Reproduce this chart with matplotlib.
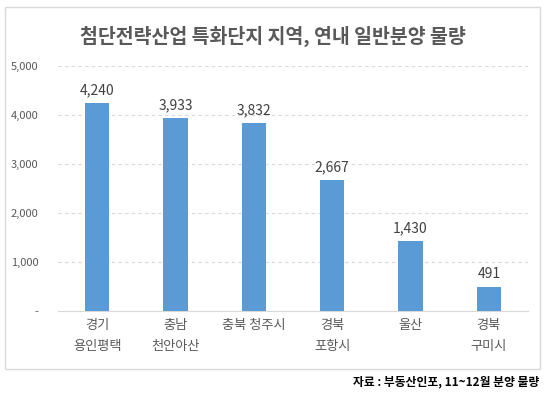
import matplotlib
matplotlib.use("Agg")
import matplotlib.pyplot as plt
from matplotlib.patches import Rectangle

plt.rcParams['font.family'] = ['Noto Sans CJK KR', 'DejaVu Sans']

regions = ["경기\n용인평택", "충남\n천안아산", "충북 청주시", "경북\n포항시", "울산", "경북\n구미시"]
volumes = [4240, 3933, 3832, 2667, 1430, 491]
y_ticks = [0, 1000, 2000, 3000, 4000, 5000]
y_tick_labels = ["-", "1,000", "2,000", "3,000", "4,000", "5,000"]

W, H = 547, 395
fig = plt.figure(figsize=(W / 100, H / 100), dpi=100)

# outer chart box
fig.patches.append(Rectangle((5 / W, 1 - 369 / H), 535 / W, 362 / H,
                             transform=fig.transFigure, fill=False,
                             edgecolor="#d9d9d9", linewidth=1))

ax = fig.add_axes([58 / W, 1 - 311 / H, 470 / W, 245 / H])
x = range(len(regions))
bars = ax.bar(x, volumes, width=0.31, color="#5b9bd5", zorder=3)

for xi, v in zip(x, volumes):
    ax.text(xi, v + 120, f"{v:,}", ha="center", va="bottom",
            fontsize=10, color="#404040")

ax.set_ylim(0, 5000)
ax.set_xlim(-0.5, len(regions) - 0.5)
ax.set_yticks(y_ticks)
ax.set_yticklabels(y_tick_labels, fontsize=8, color="#595959")
ax.set_xticks(list(x))
ax.set_xticklabels(regions, fontsize=9.5, color="#595959", linespacing=1.8)
ax.tick_params(length=0)
ax.tick_params(axis="x", pad=6)
ax.tick_params(axis="y", pad=14)
ax.grid(axis="y", linestyle=(0, (3, 3)), color="#d9d9d9", linewidth=0.8, zorder=0)
for s in ["top", "right", "left"]:
    ax.spines[s].set_visible(False)
ax.spines["bottom"].set_color("#d9d9d9")

fig.text(273 / W, 1 - 36 / H, "첨단전략산업 특화단지 지역, 연내 일반분양 물량",
         ha="center", va="center", fontsize=14, fontweight="bold", color="#595959")
fig.text(539 / W, 1 - 382 / H, "자료 : 부동산인포, 11~12월 분양 물량",
         ha="right", va="center", fontsize=8.5, fontweight="bold", color="black")

fig.savefig("out.png", dpi=100)
